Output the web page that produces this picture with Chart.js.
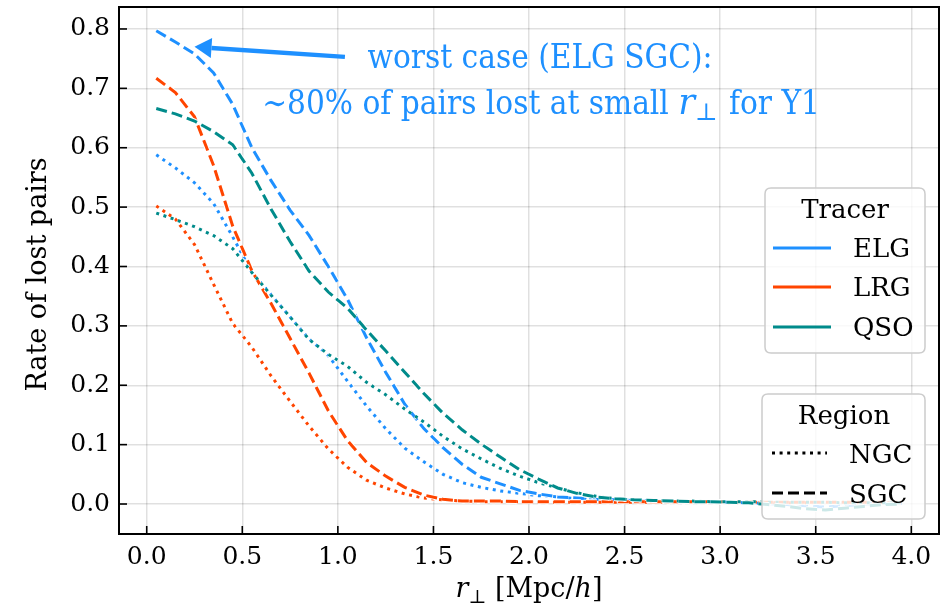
<!DOCTYPE html>
<html><head><meta charset="utf-8">
<script src="https://cdn.jsdelivr.net/npm/chart.js@4.4.0/dist/chart.umd.min.js"></script>
<style>html,body{margin:0;padding:0;background:#fff}#wrap{width:944px;height:607px}</style>
</head><body><div id="wrap"><canvas id="c" width="944" height="607"></canvas></div>
<script>
// r_perp bin centres [Mpc/h]
const rPerp = [0.05,0.15,0.25,0.35,0.45,0.55,0.65,0.75,0.85,0.95,1.05,1.15,1.25,1.35,1.45,1.55,1.65,1.75,1.85,1.95,
               2.05,2.15,2.25,2.35,2.45,2.55,2.65,2.75,2.85,2.95,3.05,3.15,3.25,3.35,3.45,3.55,3.65,3.75,3.85,3.95];
const elgNGC = [0.588,0.566,0.541,0.506,0.450,0.390,0.353,0.315,0.278,0.250,0.207,0.165,0.127,0.094,0.071,0.050,0.036,0.028,0.022,0.018,
                0.014,0.012,0.009,0.007,0.006,0.005,0.005,0.004,0.004,0.004,0.003,0.003,0.003,0.002,0.002,0.002,0.002,0.001,0.001,0.001];
const elgSGC = [0.797,0.778,0.758,0.726,0.673,0.600,0.545,0.495,0.452,0.400,0.345,0.280,0.222,0.168,0.127,0.095,0.067,0.045,0.034,0.023,
                0.017,0.012,0.010,0.008,0.007,0.006,0.005,0.004,0.004,0.004,0.003,0.002,0.001,-0.001,-0.003,-0.005,-0.003,0.000,0.001,0.001];
const lrgNGC = [0.502,0.480,0.437,0.370,0.304,0.264,0.216,0.173,0.131,0.093,0.062,0.040,0.027,0.017,0.010,0.007,0.005,0.004,0.004,0.004,
                0.003,0.003,0.003,0.003,0.003,0.003,0.003,0.003,0.003,0.003,0.002,0.002,0.002,0.002,0.002,0.002,0.002,0.002,0.002,0.002];
const lrgSGC = [0.717,0.693,0.652,0.570,0.468,0.393,0.338,0.279,0.220,0.157,0.107,0.070,0.047,0.028,0.015,0.008,0.005,0.005,0.005,0.004,
                0.004,0.004,0.004,0.004,0.004,0.004,0.004,0.004,0.004,0.004,0.004,0.003,0.003,0.003,0.003,0.003,0.003,0.003,0.003,0.003];
const qsoNGC = [0.490,0.479,0.467,0.452,0.430,0.390,0.352,0.315,0.277,0.252,0.232,0.205,0.184,0.160,0.138,0.114,0.093,0.076,0.060,0.047,
                0.036,0.027,0.019,0.013,0.009,0.007,0.006,0.005,0.005,0.004,0.004,0.004,0.003,0.003,0.003,0.003,0.002,0.002,0.002,0.002];
const qsoSGC = [0.666,0.657,0.645,0.627,0.605,0.557,0.497,0.442,0.392,0.357,0.330,0.293,0.258,0.222,0.186,0.153,0.125,0.101,0.079,0.058,
                0.042,0.027,0.018,0.012,0.009,0.007,0.006,0.005,0.004,0.004,0.003,0.002,-0.001,-0.004,-0.008,-0.010,-0.007,-0.004,-0.001,0.000];
const xTicks = [0.0,0.5,1.0,1.5,2.0,2.5,3.0,3.5,4.0];
const yTicks = [0.0,0.1,0.2,0.3,0.4,0.5,0.6,0.7,0.8];
const tracers = ['ELG','LRG','QSO'];
const regions = ['NGC','SGC'];

const COL = {ELG:'#1E90FF', LRG:'#FF4500', QSO:'#008B8B'};
const DOT = [3,4.6], DASH = [11,5];
const pts = arr => rPerp.map((x,i)=>({x, y:arr[i]}));
function mk(label, arr, tracer, region, order){
  return {label, data:pts(arr), borderColor:COL[tracer], borderWidth:3,
    borderDash: region==='NGC'?DOT:DASH, pointRadius:0, fill:false, tension:0, order,
    borderCapStyle:'butt', borderJoinStyle:'miter'};
}
const datasets = [
  mk('ELG NGC', elgNGC,'ELG','NGC',6), mk('ELG SGC', elgSGC,'ELG','SGC',5),
  mk('LRG NGC', lrgNGC,'LRG','NGC',4), mk('LRG SGC', lrgSGC,'LRG','SGC',3),
  mk('QSO NGC', qsoNGC,'QSO','NGC',2), mk('QSO SGC', qsoSGC,'QSO','SGC',1)
];

const SERIF = '"DejaVu Serif", serif';
const AF = '"DejaVu Serif Condensed", "Liberation Serif", serif';
const outline = {
  id:'outline',
  beforeDatasetDraw(chart, args){
    const ds = chart.data.datasets[args.index];
    const ctx = chart.ctx, a = chart.chartArea;
    ctx.save();
    ctx.beginPath(); ctx.rect(a.left,a.top,a.right-a.left,a.bottom-a.top); ctx.clip();
    ctx.lineWidth = ds.borderWidth + 2; ctx.strokeStyle = '#ffffff';
    ctx.setLineDash(ds.borderDash||[]); ctx.lineCap='butt'; ctx.lineJoin='miter';
    ctx.beginPath(); args.meta.dataset.path(ctx); ctx.stroke();
    ctx.restore();
  }
};
function rrect(ctx,x,y,w,h,r){
  ctx.beginPath(); ctx.moveTo(x+r,y); ctx.lineTo(x+w-r,y); ctx.quadraticCurveTo(x+w,y,x+w,y+r);
  ctx.lineTo(x+w,y+h-r); ctx.quadraticCurveTo(x+w,y+h,x+w-r,y+h); ctx.lineTo(x+r,y+h);
  ctx.quadraticCurveTo(x,y+h,x,y+h-r); ctx.lineTo(x,y+r); ctx.quadraticCurveTo(x,y,x+r,y); ctx.closePath();
}
const deco = {
  id:'deco',
  beforeDraw(chart){ const c=chart.ctx; c.save(); c.fillStyle='#fff'; c.fillRect(0,0,chart.width,chart.height); c.restore(); },
  afterDatasetsDraw(chart){
    const ctx = chart.ctx, a = chart.chartArea, xs = chart.scales.x, ys = chart.scales.y;
    ctx.save();
    // annotation arrow
    const tipX = xs.getPixelForValue(0.25), tipY = ys.getPixelForValue(0.770);
    const tailX = xs.getPixelForValue(1.037), tailY = ys.getPixelForValue(0.753);
    const ang = Math.atan2(tailY-tipY, tailX-tipX);
    const hl = 17, hw = 10;
    const bx = tipX + hl*Math.cos(ang), by = tipY + hl*Math.sin(ang);
    ctx.strokeStyle = COL.ELG; ctx.fillStyle = COL.ELG; ctx.lineWidth = 4.5; ctx.setLineDash([]);
    ctx.beginPath(); ctx.moveTo(tailX,tailY); ctx.lineTo(bx,by); ctx.stroke();
    ctx.beginPath(); ctx.moveTo(tipX,tipY);
    ctx.lineTo(bx - hw*Math.sin(ang), by + hw*Math.cos(ang));
    ctx.lineTo(bx + hw*Math.sin(ang), by - hw*Math.cos(ang)); ctx.closePath(); ctx.fill();
    // annotation text
    const cx = xs.getPixelForValue(2.058);
    const FS = 33;
    ctx.font = FS+'px '+AF; ctx.textAlign='center'; ctx.textBaseline='alphabetic';
    ctx.fillText('worst case (ELG SGC):', cx, 68);
    const p1 = '\u223C80% of pairs lost at small ', p3 = ' for Y1';
    ctx.textAlign='left';
    ctx.font=FS+'px '+AF; const w1 = ctx.measureText(p1).width, w3 = ctx.measureText(p3).width;
    ctx.font='italic 35px '+SERIF; const wr = ctx.measureText('r').width;
    ctx.font='24px '+SERIF; const ws = ctx.measureText('\u22A5').width;
    let x0 = cx - (w1+wr+ws+w3)/2, by2 = 114;
    ctx.font=FS+'px '+AF; ctx.fillText(p1, x0, by2); x0 += w1;
    ctx.font='italic 35px '+SERIF; ctx.fillText('r', x0, by2); x0 += wr;
    ctx.font='24px '+SERIF; ctx.fillText('\u22A5', x0, by2+6); x0 += ws + 2;
    ctx.font=FS+'px '+AF; ctx.fillText(p3, x0, by2);
    // legends
    function box(x,y,w,h){ rrect(ctx,x,y,w,h,6); ctx.fillStyle='rgba(255,255,255,0.8)'; ctx.fill();
      ctx.strokeStyle='#cccccc'; ctx.lineWidth=1.5; ctx.setLineDash([]); ctx.stroke(); }
    box(765,188,160,165);
    ctx.fillStyle='#000'; ctx.font='26px '+SERIF; ctx.textAlign='center';
    ctx.fillText('Tracer', 845, 218);
    ctx.textAlign='left';
    const ty = [248,287,327];
    tracers.forEach((t,i)=>{
      ctx.strokeStyle=COL[t]; ctx.lineWidth=3; ctx.setLineDash([]);
      ctx.beginPath(); ctx.moveTo(773,ty[i]); ctx.lineTo(831,ty[i]); ctx.stroke();
      ctx.fillStyle='#000'; ctx.fillText(t, 853, ty[i]+9);
    });
    box(762,394,163,125);
    ctx.fillStyle='#000'; ctx.textAlign='center'; ctx.fillText('Region', 844, 424);
    ctx.textAlign='left';
    const ry = [453,493];
    regions.forEach((r,i)=>{
      ctx.strokeStyle='#000'; ctx.lineWidth=3; ctx.setLineDash(r==='NGC'?DOT:DASH); ctx.lineCap='butt';
      ctx.beginPath(); ctx.moveTo(772,ry[i]); ctx.lineTo(827,ry[i]); ctx.stroke();
      ctx.fillStyle='#000'; ctx.fillText(r, 849, ry[i]+10);
    });
    ctx.setLineDash([]);
    // spines
    ctx.strokeStyle='#000'; ctx.lineWidth=2;
    ctx.strokeRect(a.left, a.top, a.right-a.left, a.bottom-a.top);
    // inward ticks
    ctx.lineWidth=1.6;
    xTicks.forEach(v=>{ const px=xs.getPixelForValue(v); ctx.beginPath(); ctx.moveTo(px,a.bottom); ctx.lineTo(px,a.bottom-8); ctx.stroke(); });
    yTicks.forEach(v=>{ const py=ys.getPixelForValue(v); ctx.beginPath(); ctx.moveTo(a.left,py); ctx.lineTo(a.left+8,py); ctx.stroke(); });
    // axis titles
    ctx.fillStyle='#000';
    ctx.font='27px '+SERIF; ctx.textAlign='center';
    ctx.save(); ctx.translate(46, (a.top+a.bottom)/2 + 4); ctx.rotate(-Math.PI/2);
    ctx.fillText('Rate of lost pairs', 0, 0); ctx.restore();
    // x title: r_perp [Mpc/h]
    const xb = 597, xc = (a.left+a.right)/2;
    const parts = [['r','italic 27px '+SERIF,0],['\u22A5','19px '+SERIF,6],[' [Mpc/','27px '+SERIF,0],['h','italic 27px '+SERIF,0],[']','27px '+SERIF,0]];
    ctx.textAlign='left';
    let tw=0; parts.forEach(p=>{ctx.font=p[1]; tw+=ctx.measureText(p[0]).width;});
    let xx = xc - tw/2;
    parts.forEach(p=>{ctx.font=p[1]; ctx.fillText(p[0], xx, xb+p[2]); xx+=ctx.measureText(p[0]).width;});
    ctx.restore();
  }
};

new Chart(document.getElementById('c'), {
  type:'line',
  data:{datasets},
  options:{
    responsive:false, animation:false, devicePixelRatio:1,
    layout:{padding:{left:0,right:5,top:7,bottom:0}},
    plugins:{legend:{display:false}, tooltip:{enabled:false}},
    scales:{
      x:{type:'linear', min:-0.145, max:4.145,
        afterFit(s){ s.height = 73; s.paddingLeft = 0; s.paddingRight = 0; },
        afterBuildTicks(s){ s.ticks = xTicks.map(v=>({value:v})); },
        ticks:{callback:v=>v.toFixed(1), font:{family:'DejaVu Serif', size:25}, color:'#000', padding:8, maxRotation:0, autoSkip:false},
        grid:{color:'rgba(0,0,0,0.12)', lineWidth:1.5, drawTicks:false},
        border:{display:false}},
      y:{type:'linear', min:-0.0505, max:0.837,
        afterFit(s){ s.width = 119; s.paddingTop = 0; s.paddingBottom = 0; },
        afterBuildTicks(s){ s.ticks = yTicks.map(v=>({value:v})); },
        ticks:{callback:v=>v.toFixed(1), font:{family:'DejaVu Serif', size:25}, color:'#000', padding:9, autoSkip:false},
        grid:{color:'rgba(0,0,0,0.12)', lineWidth:1.5, drawTicks:false},
        border:{display:false}}
    }
  },
  plugins:[outline, deco]
});
</script></body></html>
